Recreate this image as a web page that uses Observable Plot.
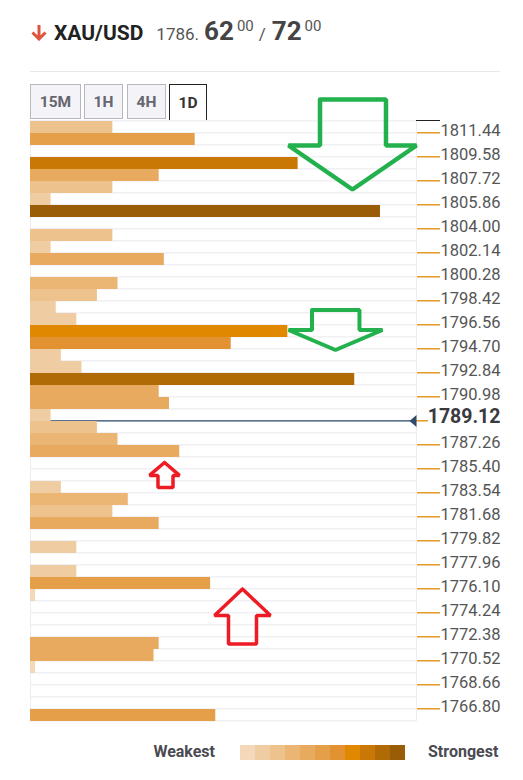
<!DOCTYPE html>
<html>
<head>
<meta charset="utf-8">
<script src="https://cdn.jsdelivr.net/npm/d3@7"></script>
<script src="https://cdn.jsdelivr.net/npm/@observablehq/plot@0.6"></script>
<style>
  body { margin: 0; background: #fff; font-family: Roboto, "Open Sans", sans-serif; }
  #wrap { position: relative; width: 523px; height: 780px; overflow: hidden; }
  #icon { position: absolute; left: 30px; top: 24px; }
  #hdr { position: absolute; left: 54px; top: 16px; display: flex; align-items: baseline; white-space: nowrap; }
  #hdr .pair { font-weight: 700; font-size: 21px; color: #222; margin-right: 13px; }
  #hdr .big { font-size: 17px; color: #555; }
  #hdr .pip { font-weight: 700; font-size: 26px; color: #444; margin-left: 5px; }
  #hdr .sup { font-size: 15px; color: #555; position: relative; top: -9px; margin-left: 3px; }
  #hdr .sl { font-size: 17px; color: #555; margin: 0 6px 0 5px; }
  #sep { position: absolute; left: 30px; top: 71px; width: 470px; height: 1px; background: #e8e8ec; }
  .tab { position: absolute; top: 84px; height: 35px; box-sizing: border-box; border: 1px solid #b8b8c0;
         background: #f3f3f8; font-weight: 700; font-size: 15.5px; color: #66666e;
         display: flex; align-items: center; justify-content: center; }
  .tab.on { background: #fff; border: 1px solid #222; border-bottom: none; height: 37px; color: #333; }
  #baseline { position: absolute; left: 206px; top: 120px; width: 234px; height: 1px; background: #222; }
  #chart { position: absolute; left: 0; top: 80px; z-index: 2; }
  #legend { position: absolute; top: 744px; left: 0; width: 523px; height: 17px; }
  #legend .lab { position: absolute; top: -1px; font-weight: 700; font-size: 16px; color: #4a4a52; line-height: 17px; }
  #legend .sw { position: absolute; top: 1px; width: 15px; height: 15px; }
</style>
</head>
<body>
<div id="wrap">
  <svg id="icon" width="18" height="17" viewBox="0 0 18 17">
    <path d="M9 1 V15 M2.5 8.5 L9 15 L15.5 8.5" fill="none" stroke="#e0533d" stroke-width="3"/>
  </svg>
  <div id="hdr">
    <span class="pair">XAU/USD</span>
    <span class="big">1786.</span>
    <span class="pip">62</span><span class="sup">00</span>
    <span class="sl">/</span>
    <span class="pip" style="margin-left:0">72</span><span class="sup">00</span>
  </div>
  <div id="sep"></div>
  <div class="tab" style="left:30px;width:51px">15M</div>
  <div class="tab" style="left:84px;width:39px">1H</div>
  <div class="tab" style="left:127px;width:39px">4H</div>
  <div class="tab on" style="left:169px;width:38px">1D</div>
  <div id="baseline"></div>
  <div id="chart"></div>
  <div id="legend"></div>
</div>
<script>
// ---- data ----
const levelColors = ["#f3d9b9", "#f0cca3", "#edc28c", "#ebb674", "#e7aa5e", "#e49f48",
                     "#e29231", "#df8800", "#c97806", "#b06b07", "#9a5d07"];
const barLow = [1811.44, 1810.51, 1808.65, 1807.72, 1806.79, 1805.86, 1804.93, 1803.07, 1802.14, 1801.21,
                1799.35, 1798.42, 1797.49, 1796.56, 1795.63, 1794.70, 1793.77, 1792.84, 1791.91, 1790.98,
                1790.05, 1789.12, 1788.19, 1787.26, 1786.33, 1783.54, 1782.61, 1781.68, 1780.75, 1778.89,
                1777.03, 1776.10, 1775.17, 1771.45, 1770.52, 1769.59, 1765.87];
const barStrength = [16, 32, 52, 25, 16, 4, 68, 16, 4, 26,
                     17, 13, 5, 9, 50, 39, 6, 10, 63, 25,
                     27, 4, 13, 17, 29, 6, 19, 16, 25, 9,
                     9, 35, 1, 25, 24, 1, 36];
const barLevel = [3, 6, 9, 5, 3, 2, 11, 3, 2, 5,
                  4, 3, 2, 2, 8, 7, 2, 2, 10, 5,
                  5, 2, 3, 4, 5, 2, 4, 3, 5, 2,
                  2, 6, 1, 5, 5, 1, 6];
const tickValues = [1811.44, 1809.58, 1807.72, 1805.86, 1804.00, 1802.14, 1800.28, 1798.42, 1796.56,
                    1794.70, 1792.84, 1790.98, 1787.26, 1785.40, 1783.54, 1781.68, 1779.82,
                    1777.96, 1776.10, 1774.24, 1772.38, 1770.52, 1768.66, 1766.80];
const currentPrice = 1789.12;
const rowStep = 0.93;
const priceBottom = 1765.87;
const priceTop = 1812.37;
const strengthMax = 75;

// annotation arrows (strength, price)
const greenArrowBig = [[56.25, 1814.08], [69.07, 1814.08], [69.07, 1810.51], [75.0, 1810.51], [62.56, 1807.10],
                       [50.13, 1810.51], [56.25, 1810.51], [56.25, 1814.08]];
const greenArrowSmall = [[54.70, 1797.76], [63.92, 1797.76], [63.92, 1796.21], [68.39, 1796.21], [59.26, 1794.66],
                         [50.13, 1796.21], [54.70, 1796.21], [54.70, 1797.76]];
const redArrowSmall = [[26.04, 1785.94], [28.95, 1784.94], [27.69, 1784.94], [27.69, 1784.00], [24.77, 1784.00],
                       [24.77, 1784.94], [23.12, 1784.94], [26.04, 1785.94]];
const redArrowBig = [[41.19, 1776.14], [46.63, 1774.08], [43.91, 1774.08], [43.91, 1771.88], [38.47, 1771.88],
                     [38.47, 1774.08], [35.75, 1774.08], [41.19, 1776.14]];

// ---- build ----
const bars = barLow.map((low, i) => ({low, high: low + rowStep, strength: barStrength[i], shade: levelColors[barLevel[i] - 1]}));
const rowEdges = d3.range(51).map(i => priceBottom + i * rowStep);
const u = strengthMax / 386; // strength units per pixel
const leftTriangle = {draw(c) { c.moveTo(-4, 0); c.lineTo(3, -6); c.lineTo(3, 6); c.closePath(); }};

const chart = Plot.plot({
  width: 523, height: 650,
  marginTop: 41, marginBottom: 9, marginLeft: 30, marginRight: 107,
  x: {domain: [0, strengthMax], axis: null},
  y: {domain: [priceBottom, priceTop], axis: null},
  color: {type: "identity"},
  style: {background: "transparent", overflow: "visible", fontFamily: "Roboto, sans-serif"},
  marks: [
    Plot.ruleY(rowEdges, {x1: 0, x2: strengthMax, stroke: "#f0f0f5", strokeWidth: 1.5, dy: -0.75}),
    Plot.ruleX([0, strengthMax], {y1: priceBottom, y2: priceTop, stroke: "#ececf1", strokeWidth: 1}),
    Plot.ruleY([currentPrice], {x1: 0, x2: strengthMax, stroke: "#2f4a6b", strokeWidth: 1.2, dy: -0.7}),
    Plot.rect(bars, {x1: 0, x2: "strength", y1: "low", y2: "high", fill: d => d.shade}),
    Plot.ruleY(tickValues, {x1: strengthMax + u, x2: strengthMax + 24 * u, stroke: "#e08a00", strokeWidth: 1.3, dy: -0.7}),
    Plot.text(tickValues, {x: strengthMax, y: d => d, text: d => d.toFixed(2), textAnchor: "end", dx: 84, dy: -3,
                           fontSize: 16.5, fill: "#555"}),
    Plot.ruleY([currentPrice], {x1: strengthMax, x2: strengthMax + 12 * u, stroke: "#e08a00", strokeWidth: 1.3, dy: -0.7}),
    Plot.dot([currentPrice], {x: strengthMax, y: d => d, symbol: leftTriangle, fill: "#2f4a6b", stroke: "none", dx: -3, dy: -0.5}),
    Plot.text([currentPrice], {x: strengthMax, y: d => d, text: d => d.toFixed(2), textAnchor: "end", dx: 84, dy: -4.5,
                               fontSize: 19.5, fontWeight: 700, fill: "#3a3a40"}),
    Plot.line(greenArrowBig, {x: d => d[0], y: d => d[1], stroke: "#22b14c", strokeWidth: 4.5, strokeLinejoin: "miter"}),
    Plot.line(greenArrowSmall, {x: d => d[0], y: d => d[1], stroke: "#22b14c", strokeWidth: 4, strokeLinejoin: "miter"}),
    Plot.line(redArrowSmall, {x: d => d[0], y: d => d[1], stroke: "#ed1c24", strokeWidth: 3.5, strokeLinejoin: "miter"}),
    Plot.line(redArrowBig, {x: d => d[0], y: d => d[1], stroke: "#ed1c24", strokeWidth: 3.5, strokeLinejoin: "miter"})
  ]
});
document.getElementById("chart").appendChild(chart);

// legend
const legend = document.getElementById("legend");
const weak = document.createElement("div");
weak.className = "lab"; weak.textContent = "Weakest"; weak.style.right = (523 - 215) + "px";
legend.appendChild(weak);
levelColors.forEach((c, i) => {
  const s = document.createElement("div");
  s.className = "sw"; s.style.left = (240 + i * 15) + "px"; s.style.background = c;
  legend.appendChild(s);
});
const strong = document.createElement("div");
strong.className = "lab"; strong.textContent = "Strongest"; strong.style.left = "428px";
legend.appendChild(strong);
</script>
</body>
</html>
